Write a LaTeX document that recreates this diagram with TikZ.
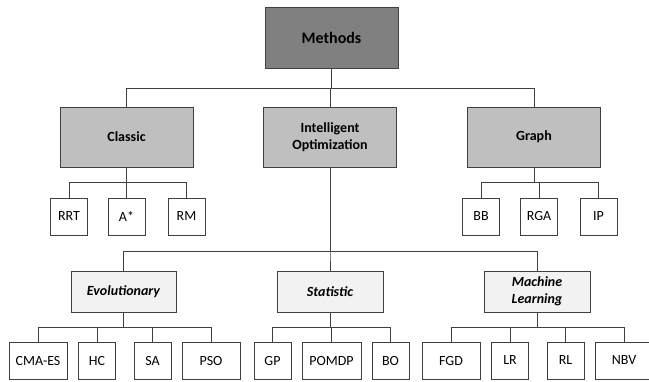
\documentclass[tikz,border=0pt]{standalone}
\usepackage{fontspec}
\setmainfont{Carlito}
\begin{document}
\begin{tikzpicture}[x=1pt,y=-1pt,
  base/.style={draw=black!75, line width=0.8pt, inner sep=0pt, align=center,
    font=\fontsize{14}{17}\selectfont},
  topbox/.style={base, fill=black!50, font=\fontsize{16}{19}\selectfont\bfseries,
    minimum width=133pt, minimum height=61pt},
  midbox/.style={base, fill=black!25, font=\fontsize{14}{17}\selectfont\bfseries,
    minimum width=133pt, minimum height=60pt},
  subbox/.style={base, fill=black!5, font=\fontsize{14}{17}\selectfont\bfseries\itshape,
    minimum width=106pt, minimum height=41pt},
  leaf/.style={base, fill=white, minimum width=37pt, minimum height=37pt},
  wideleaf/.style={leaf, minimum width=58pt},
  conn/.style={draw=black!75, line width=0.8pt}
]
\clip (0,0) rectangle (649,381);
\fill[white] (0,0) rectangle (649,381);

\node[topbox] (methods) at (331.5,37.5) {Methods};

\node[midbox] (classic) at (126.5,137) {Classic};
\node[midbox] (intel) at (330,137) {Intelligent\\Optimization};
\node[midbox] (graph) at (534,137) {Graph};

\node[leaf] (rrt) at (69,216.5) {RRT};
\node[leaf] (astar) at (126.5,216.5) {A*};
\node[leaf] (rm) at (186.5,216.5) {RM};

\node[leaf] (bb) at (481,216.5) {BB};
\node[leaf] (rga) at (539,216.5) {RGA};
\node[leaf] (ip) at (598.5,216.5) {IP};

\node[subbox, minimum width=105pt] (evol) at (123.5,291.5) {Evolutionary};
\node[subbox] (stat) at (330,291.5) {Statistic};
\node[subbox] (ml) at (537,291.5) {Machine\\Learning};

\node[wideleaf] (cma) at (38,360.5) {CMA-ES};
\node[leaf] (hc) at (97,360.5) {HC};
\node[leaf] (sa) at (152.5,360.5) {SA};
\node[wideleaf] (pso) at (211,360.5) {PSO};

\node[leaf] (gp) at (272.5,360.5) {GP};
\node[wideleaf, minimum width=59pt] (pomdp) at (331.5,360.5) {POMDP};
\node[leaf] (bo) at (390.5,360.5) {BO};

\node[wideleaf] (fgd) at (451,360.5) {FGD};
\node[leaf] (lr) at (510,360.5) {LR};
\node[leaf] (rl) at (565.5,360.5) {RL};
\node[wideleaf] (nbv) at (624,360.5) {NBV};

\foreach \c in {classic,intel,graph}
  \draw[conn] (methods.south) -- ++(0,20) -| (\c.north);
\foreach \c in {rrt,astar,rm}
  \draw[conn] (classic.south) -- ++(0,15) -| (\c.north);
\foreach \c in {bb,rga,ip}
  \draw[conn] (graph.south) -- ++(0,15) -| (\c.north);
\foreach \c in {evol,stat,ml}
  \draw[conn] (intel.south) -- ++(0,84) -| (\c.north);
\foreach \c in {cma,hc,sa,pso}
  \draw[conn] (evol.south) -- ++(0,15) -| (\c.north);
\foreach \c in {gp,pomdp,bo}
  \draw[conn] (stat.south) -- ++(0,15) -| (\c.north);
\foreach \c in {fgd,lr,rl,nbv}
  \draw[conn] (ml.south) -- ++(0,15) -| (\c.north);
\end{tikzpicture}
\end{document}
